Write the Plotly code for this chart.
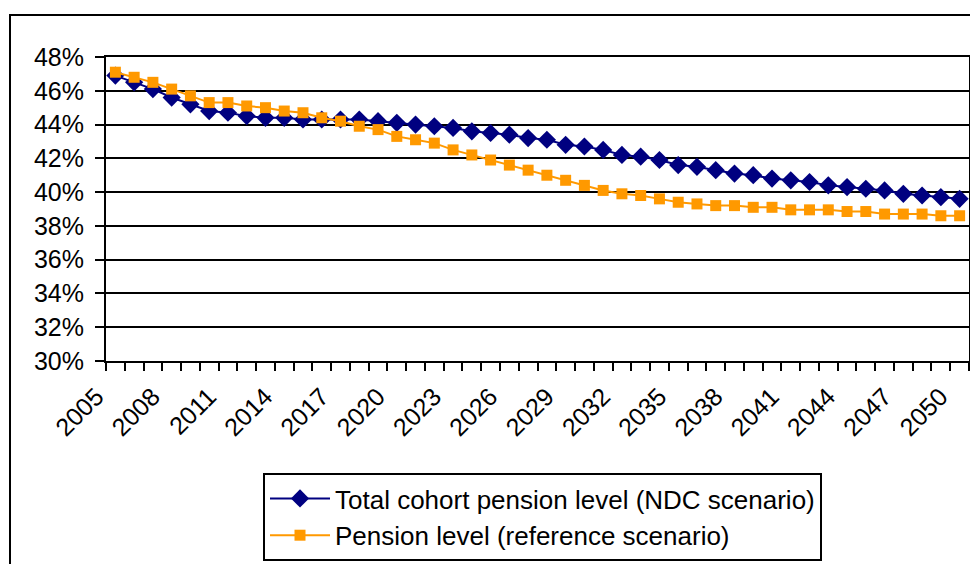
import plotly.graph_objects as go

years = list(range(2005, 2051))
ndc = [46.9, 46.5, 46.1, 45.6, 45.2, 44.8, 44.7, 44.5, 44.4, 44.4, 44.3, 44.3, 44.3, 44.3, 44.2, 44.1,
       44.0, 43.9, 43.8, 43.6, 43.5, 43.4, 43.2, 43.1, 42.8, 42.7, 42.5, 42.2, 42.1, 41.9, 41.6, 41.5,
       41.3, 41.1, 41.0, 40.8, 40.7, 40.6, 40.4, 40.3, 40.2, 40.1, 39.9, 39.8, 39.7, 39.6]
ref = [47.1, 46.8, 46.5, 46.1, 45.7, 45.3, 45.3, 45.1, 45.0, 44.8, 44.7, 44.4, 44.2, 43.9, 43.7, 43.3,
       43.1, 42.9, 42.5, 42.2, 41.9, 41.6, 41.3, 41.0, 40.7, 40.4, 40.1, 39.9, 39.8, 39.6, 39.4, 39.3,
       39.2, 39.2, 39.1, 39.1, 38.95, 38.95, 38.95, 38.85, 38.85, 38.7, 38.7, 38.7, 38.6, 38.6]
label_years = list(range(2005, 2051, 3))
y_ticks = list(range(30, 49, 2))

FONT = "Liberation Sans, Arial, sans-serif"
FS = 25

# page body has an 8px margin; figure pixel = window pixel - 8
OFF = 8
W, H = 978 - 2 * OFF, 564 - OFF
L, T = 106 - OFF, 57 - OFF
R = W - (969 - OFF)
B = H - (361 - OFF)
pw, ph = W - L - R, H - T - B

def px2x(p):
    return (p - OFF - L) / pw

def py2y(p):
    return 1 - (p - OFF - T) / ph

fig = go.Figure()
fig.add_trace(go.Scatter(x=years, y=ndc, mode="lines+markers",
                         name="Total cohort pension level (NDC scenario)",
                         line=dict(color="#000080", width=2),
                         marker=dict(symbol="diamond", size=14, color="#000080")))
fig.add_trace(go.Scatter(x=years, y=ref, mode="lines+markers",
                         name="Pension level (reference scenario)",
                         line=dict(color="#FF9900", width=2),
                         marker=dict(symbol="square", size=11, color="#FF9900")))

fig.add_shape(type="rect", xref="paper", yref="paper",
              x0=px2x(10), x1=px2x(1000), y0=py2y(620), y1=py2y(15),
              line=dict(color="black", width=2), layer="below")

fig.update_layout(
    width=W, height=H,
    margin=dict(l=L, r=R, t=T, b=B, autoexpand=False),
    paper_bgcolor="white", plot_bgcolor="white",
    font=dict(family=FONT, size=FS, color="black"),
    showlegend=True,
    legend=dict(x=px2x(263), y=py2y(561), xanchor="left", yanchor="bottom",
                bordercolor="black", borderwidth=2, bgcolor="white",
                font=dict(family=FONT, size=26), itemwidth=60,
                tracegroupgap=0),
)
fig.update_xaxes(
    range=[2004.5, 2050.5], tickmode="array", tickvals=label_years,
    ticktext=[str(y) for y in label_years], tickangle=-45, ticks="", ticklen=0,
    showgrid=False, showline=True, linecolor="black", linewidth=2, mirror=True,
    zeroline=False, automargin=False,
    minor=dict(ticks="outside", tick0=2004.5, dtick=1, ticklen=8, tickcolor="black",
               tickwidth=2, showgrid=False),
    ticklabelstandoff=9, ticklabelshift=-19, tickfont=dict(size=FS),
)
fig.update_yaxes(
    range=[30, 48], tickmode="array", tickvals=y_ticks,
    ticktext=[f"{v}%" for v in y_ticks],
    ticks="outside", ticklen=9, tickcolor="black", tickwidth=2,
    showgrid=True, gridcolor="black", gridwidth=2,
    showline=True, linecolor="black", linewidth=2, mirror=True, zeroline=False,
    automargin=False, ticklabelstandoff=6, tickfont=dict(size=FS),
)

fig.write_html("out.html")
